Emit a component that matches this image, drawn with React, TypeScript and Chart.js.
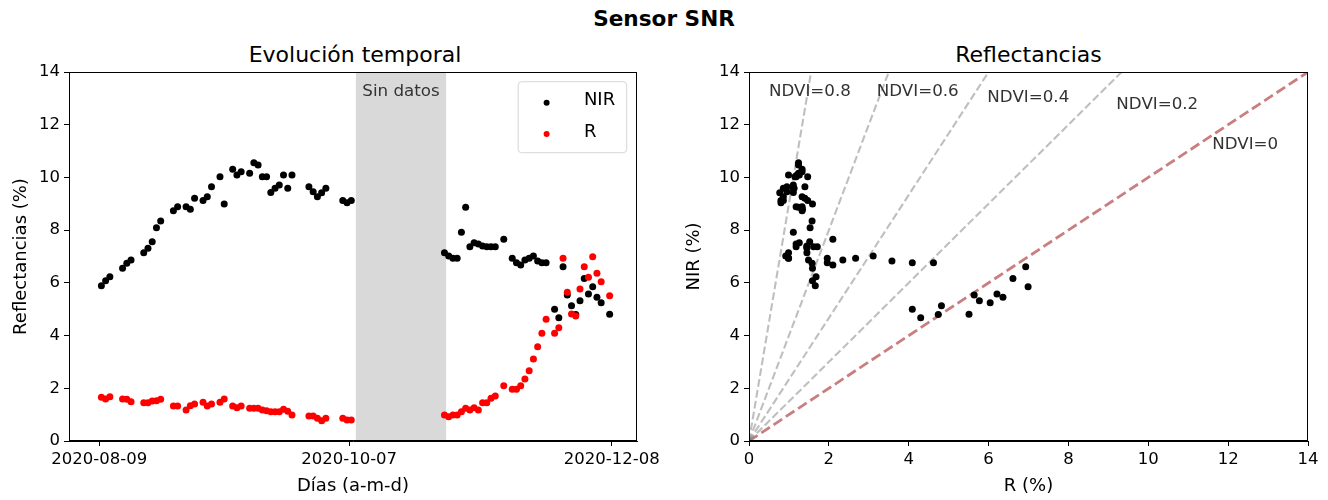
import React, { useEffect, useRef } from "react";
import { Chart, registerables } from "chart.js";

Chart.register(...registerables);

const FONT = "DejaVu Sans";

// ---- data ----
const dates = [
  "2020-08-09", "2020-08-10", "2020-08-11", "2020-08-14", "2020-08-15", "2020-08-16",
  "2020-08-19", "2020-08-20", "2020-08-21", "2020-08-22", "2020-08-23", "2020-08-26",
  "2020-08-27", "2020-08-29", "2020-08-30", "2020-08-31", "2020-09-02", "2020-09-03",
  "2020-09-04", "2020-09-06", "2020-09-07", "2020-09-09", "2020-09-10", "2020-09-11",
  "2020-09-13", "2020-09-14", "2020-09-15", "2020-09-16", "2020-09-17", "2020-09-18",
  "2020-09-19", "2020-09-20", "2020-09-21", "2020-09-22", "2020-09-23", "2020-09-27",
  "2020-09-28", "2020-09-29", "2020-09-30", "2020-10-01", "2020-10-05", "2020-10-06",
  "2020-10-07",
  "2020-10-29", "2020-10-30", "2020-10-31", "2020-11-01", "2020-11-02", "2020-11-03",
  "2020-11-04", "2020-11-05", "2020-11-06", "2020-11-07", "2020-11-08", "2020-11-09",
  "2020-11-10", "2020-11-12", "2020-11-14", "2020-11-15", "2020-11-16", "2020-11-17",
  "2020-11-18", "2020-11-19", "2020-11-20", "2020-11-21", "2020-11-22", "2020-11-24",
  "2020-11-25", "2020-11-26", "2020-11-27", "2020-11-28", "2020-11-29", "2020-11-30",
  "2020-12-01", "2020-12-02", "2020-12-03", "2020-12-04", "2020-12-05", "2020-12-07",
];
const acquisitionTime = "12:00";

const nirValues = [
  5.89, 6.08, 6.23, 6.55, 6.74, 6.87, 7.14, 7.31, 7.56, 8.09, 8.35, 8.74, 8.89, 8.89,
  8.79, 9.21, 9.12, 9.27, 9.65, 10.03, 8.99, 10.31, 10.09, 10.22, 10.16, 10.56, 10.47,
  10.03, 10.03, 9.43, 9.59, 9.71, 10.09, 9.59, 10.09, 9.65, 9.46, 9.27, 9.42, 9.59,
  9.12, 9.04, 9.12,
  7.14, 7.02, 6.93, 6.93, 7.92, 8.87, 7.37, 7.52, 7.47, 7.40, 7.37, 7.37, 7.37, 7.65,
  6.93, 6.76, 6.68, 6.87, 6.93, 7.02, 6.83, 6.76, 6.76, 5.00, 4.68, 6.61, 5.54, 5.13,
  4.80, 5.32, 6.17, 5.58, 5.85, 5.45, 5.25, 4.81,
];
const redValues = [
  1.66, 1.59, 1.68, 1.59, 1.58, 1.49, 1.45, 1.45, 1.52, 1.53, 1.58, 1.33, 1.33, 1.18,
  1.34, 1.40, 1.47, 1.33, 1.40, 1.47, 1.59, 1.33, 1.26, 1.33, 1.24, 1.24, 1.24, 1.18,
  1.15, 1.11, 1.11, 1.11, 1.20, 1.13, 0.99, 0.95, 0.95, 0.86, 0.77, 0.86, 0.86, 0.80,
  0.80,
  0.99, 0.92, 0.99, 0.99, 1.11, 1.24, 1.18, 1.26, 1.18, 1.45, 1.45, 1.62, 1.71, 2.10,
  1.96, 1.96, 2.10, 2.35, 2.67, 3.11, 3.58, 4.09, 4.62, 4.09, 4.30, 6.93, 5.64, 4.82,
  4.74, 5.77, 6.61, 6.21, 6.99, 6.36, 6.04, 5.51,
];

const xTickDates = ["2020-08-09", "2020-10-07", "2020-12-08"];
const xRangeDates = ["2020-08-01T20:30:00Z", "2020-12-13T23:00:00Z"];
const gapRange = ["2020-10-08T14:00:00Z", "2020-10-29T21:30:00Z"];
const gapLabel = "Sin datos";
const gapLabelY = 13.25;

const yMin = 0;
const yMax = 14;
const yStep = 2;

const ndviValues = [0.8, 0.6, 0.4, 0.2, 0];
const ndviLabelR = [0.5, 3.2, 5.97, 9.2, 11.6];
const ndviLabelNIR = [13.25, 13.25, 13.04, 12.75, 11.26];

// ---- helpers ----
const ORIGIN = Date.UTC(2020, 7, 9);
const toDay = (s: string) => {
  const iso = s.length === 10 ? `${s}T00:00:00Z` : s;
  return (Date.parse(iso) - ORIGIN) / 86400000;
};
const pointDay = (s: string) => toDay(`${s}T${acquisitionTime}:00Z`);
const dayLabel = (d: number) => {
  const dt = new Date(ORIGIN + Math.round(d) * 86400000);
  const p = (n: number) => String(n).padStart(2, "0");
  return `${dt.getUTCFullYear()}-${p(dt.getUTCMonth() + 1)}-${p(dt.getUTCDate())}`;
};

const TICK_FONT = 16.5;
const LABEL_FONT = 18;

const makeAxis = (opts: {
  isX: boolean;
  min: number;
  max: number;
  title: string;
  titlePad: number;
  size: number;
  extra?: any;
}) => ({
  type: "linear",
  min: opts.min,
  max: opts.max,
  border: { display: true, color: "#000", width: 1 },
  grid: {
    display: true,
    drawOnChartArea: false,
    drawTicks: true,
    tickLength: 5,
    color: "#000",
    lineWidth: 1,
  },
  ticks: {
    color: "#000",
    font: { family: FONT, size: TICK_FONT },
    padding: 4,
    maxRotation: 0,
    minRotation: 0,
    autoSkip: false,
    stepSize: yStep,
  },
  title: {
    display: true,
    text: opts.title,
    color: "#000",
    font: { family: FONT, size: LABEL_FONT },
    padding: opts.isX ? { top: 0, bottom: opts.titlePad } : { top: opts.titlePad, bottom: 0 },
  },
  afterFit: (s: any) => {
    if (opts.isX) s.height = opts.size;
    else s.width = opts.size;
    s.paddingLeft = 0;
    s.paddingRight = 0;
    s.paddingTop = 0;
    s.paddingBottom = 0;
  },
  ...(opts.extra || {}),
});

const framePlugin = {
  id: "frame",
  afterDraw(chart: any) {
    const { ctx, chartArea } = chart;
    const l = Math.round(chartArea.left) + 0.5;
    const t = Math.round(chartArea.top) + 0.5;
    const r = Math.round(chartArea.right) - 0.5;
    const b = Math.round(chartArea.bottom) - 0.5;
    ctx.save();
    ctx.strokeStyle = "#000";
    ctx.lineWidth = 1;
    ctx.strokeRect(l, t, r - l, b - t);
    ctx.restore();
  },
};

const gapPlugin = {
  id: "gap",
  beforeDatasetsDraw(chart: any) {
    const { ctx, chartArea, scales } = chart;
    const x0 = scales.x.getPixelForValue(toDay(gapRange[0]));
    const x1 = scales.x.getPixelForValue(toDay(gapRange[1]));
    ctx.save();
    ctx.fillStyle = "#d9d9d9";
    ctx.fillRect(x0, chartArea.top, x1 - x0, chartArea.bottom - chartArea.top);
    ctx.fillStyle = "#333333";
    ctx.font = `16.7px "${FONT}"`;
    ctx.textAlign = "center";
    ctx.textBaseline = "middle";
    ctx.fillText(gapLabel, (x0 + x1) / 2, scales.y.getPixelForValue(gapLabelY));
    ctx.restore();
  },
};

const legendPlugin = {
  id: "customLegend",
  afterDraw(chart: any) {
    const { ctx, chartArea } = chart;
    const w = 108.5;
    const h = 71;
    const bx = chartArea.right - 10.3 - w;
    const by = chartArea.top + 9.7;
    const rad = 3.5;
    ctx.save();
    ctx.beginPath();
    ctx.moveTo(bx + rad, by);
    ctx.lineTo(bx + w - rad, by);
    ctx.quadraticCurveTo(bx + w, by, bx + w, by + rad);
    ctx.lineTo(bx + w, by + h - rad);
    ctx.quadraticCurveTo(bx + w, by + h, bx + w - rad, by + h);
    ctx.lineTo(bx + rad, by + h);
    ctx.quadraticCurveTo(bx, by + h, bx, by + h - rad);
    ctx.lineTo(bx, by + rad);
    ctx.quadraticCurveTo(bx, by, bx + rad, by);
    ctx.closePath();
    ctx.fillStyle = "rgba(255,255,255,0.8)";
    ctx.fill();
    ctx.strokeStyle = "rgba(204,204,204,0.8)";
    ctx.lineWidth = 1;
    ctx.stroke();
    const ds = [...chart.data.datasets].sort((a: any, b: any) => b.order - a.order);
    ds.forEach((d: any, i: number) => {
      const cy = by + 21 + i * 31.3;
      ctx.beginPath();
      ctx.arc(bx + 28.4, cy, 3, 0, Math.PI * 2);
      ctx.fillStyle = d.backgroundColor;
      ctx.fill();
      ctx.fillStyle = "#000";
      ctx.font = `${LABEL_FONT}px "${FONT}"`;
      ctx.textAlign = "left";
      ctx.textBaseline = "middle";
      ctx.fillText(d.label, bx + 65.7, cy - 2);
    });
    ctx.restore();
  },
};

const ndviLabelPlugin = {
  id: "ndviLabels",
  afterDatasetsDraw(chart: any) {
    const { ctx, scales } = chart;
    ctx.save();
    ctx.fillStyle = "#333333";
    ctx.font = `16.7px "${FONT}"`;
    ctx.textAlign = "left";
    ctx.textBaseline = "middle";
    ndviValues.forEach((v, i) => {
      ctx.fillText(
        `NDVI=${v}`,
        scales.x.getPixelForValue(ndviLabelR[i]),
        scales.y.getPixelForValue(ndviLabelNIR[i])
      );
    });
    ctx.restore();
  },
};

export default function App() {
  const leftRef = useRef<HTMLCanvasElement>(null);
  const rightRef = useRef<HTMLCanvasElement>(null);

  useEffect(() => {
    document.body.style.margin = "0";
    Chart.defaults.font.family = FONT;

    const days = dates.map(pointDay);

    const left = new Chart(leftRef.current!, {
      type: "scatter",
      data: {
        datasets: [
          {
            label: "NIR",
            data: days.map((d, i) => ({ x: d, y: nirValues[i] })),
            backgroundColor: "#000000",
            borderWidth: 0,
            pointRadius: 3.5,
            order: 1,
          },
          {
            label: "R",
            data: days.map((d, i) => ({ x: d, y: redValues[i] })),
            backgroundColor: "#ff0000",
            borderWidth: 0,
            pointRadius: 3.5,
            order: 0,
          },
        ],
      },
      options: {
        responsive: false,
        animation: false,
        events: [],
        layout: { padding: { top: 72, right: 27, left: 0, bottom: 0 } },
        plugins: { legend: { display: false }, tooltip: { enabled: false } },
        scales: {
          x: makeAxis({
            isX: true,
            min: toDay(xRangeDates[0]),
            max: toDay(xRangeDates[1]),
            title: "Días (a-m-d)",
            titlePad: 3,
            size: 59,
            extra: {
              afterBuildTicks: (s: any) => {
                s.ticks = xTickDates.map((t) => ({ value: toDay(t) }));
              },
            },
          }) as any,
          y: makeAxis({
            isX: false,
            min: yMin,
            max: yMax,
            title: "Reflectancias (%)",
            titlePad: 10.7,
            size: 69,
          }) as any,
        },
      },
      plugins: [gapPlugin, framePlugin, legendPlugin],
    } as any);
    (left.options.scales as any).x.ticks.callback = (v: number) => dayLabel(v);
    left.update();

    const ndviDatasets = ndviValues.map((v) => ({
      label: `NDVI=${v}`,
      data: [
        { x: 0, y: 0 },
        { x: yMax, y: (yMax * (1 + v)) / (1 - v) },
      ],
      showLine: true,
      borderColor: v === 0 ? "rgba(165,42,42,0.6)" : "rgba(128,128,128,0.5)",
      borderWidth: v === 0 ? 2.8 : 2.1,
      borderDash: v === 0 ? [10.3, 4.4] : [7.7, 3.3],
      pointRadius: 0,
      fill: false,
      order: 1,
    }));

    const right = new Chart(rightRef.current!, {
      type: "scatter",
      data: {
        datasets: [
          ...ndviDatasets,
          {
            label: "R vs NIR",
            data: redValues.map((r, i) => ({ x: r, y: nirValues[i] })),
            backgroundColor: "#000000",
            borderWidth: 0,
            pointRadius: 3.5,
            order: 0,
          },
        ],
      },
      options: {
        responsive: false,
        animation: false,
        events: [],
        layout: { padding: { top: 72, right: 20, left: 0, bottom: 0 } },
        plugins: { legend: { display: false }, tooltip: { enabled: false } },
        scales: {
          x: makeAxis({
            isX: true,
            min: yMin,
            max: yMax,
            title: "R (%)",
            titlePad: 3,
            size: 59,
          }) as any,
          y: makeAxis({
            isX: false,
            min: yMin,
            max: yMax,
            title: "NIR (%)",
            titlePad: 19.7,
            size: 85,
          }) as any,
        },
      },
      plugins: [ndviLabelPlugin, framePlugin],
    } as any);

    return () => {
      left.destroy();
      right.destroy();
    };
  }, []);

  const titleStyle: React.CSSProperties = {
    position: "absolute",
    top: 44,
    fontFamily: FONT,
    fontSize: 22,
    lineHeight: 1,
    whiteSpace: "nowrap",
    transform: "translateX(-50%)",
    color: "#000",
  };

  return (
    <div style={{ position: "relative", width: 1328, height: 500, background: "#fff" }}>
      <div
        style={{
          position: "absolute",
          left: 0,
          top: 8,
          width: 1328,
          textAlign: "center",
          fontFamily: FONT,
          fontWeight: "bold",
          fontSize: 21.6,
          lineHeight: 1,
          color: "#000",
        }}
      >
        Sensor SNR
      </div>
      <div style={{ ...titleStyle, left: 355 }}>Evolución temporal</div>
      <div style={{ ...titleStyle, left: 1028.5 }}>Reflectancias</div>
      <canvas
        ref={leftRef}
        width={664}
        height={500}
        style={{ position: "absolute", left: 0, top: 0 }}
      />
      <canvas
        ref={rightRef}
        width={664}
        height={500}
        style={{ position: "absolute", left: 664, top: 0 }}
      />
    </div>
  );
}
